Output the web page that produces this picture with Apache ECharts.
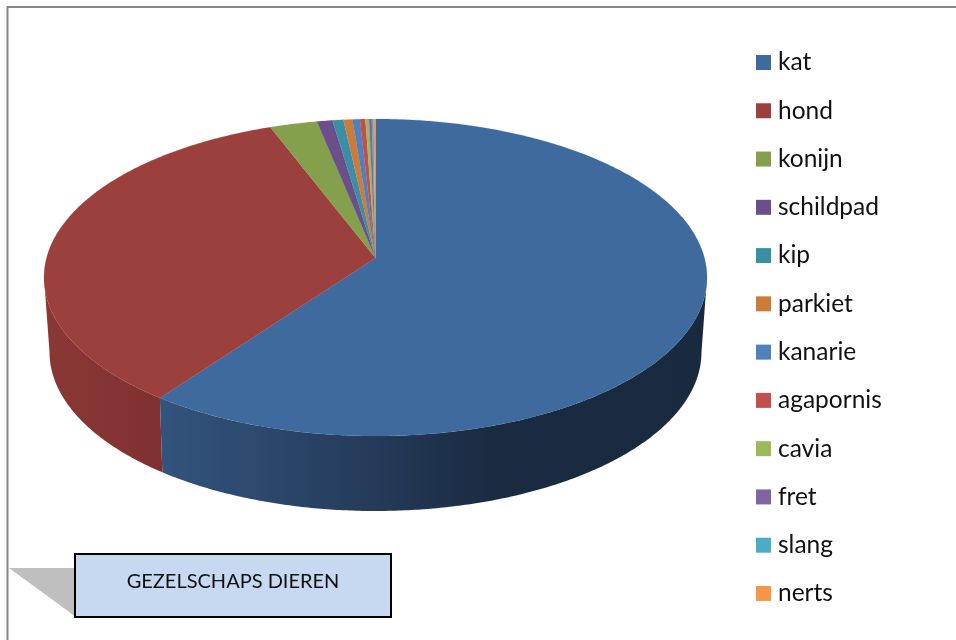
<!DOCTYPE html>
<html>
<head>
<meta charset="utf-8">
<title>Gezelschapsdieren</title>
<style>
    html, body { margin: 0; padding: 0; background: #fff; }
    #chart { width: 956px; height: 640px; }
</style>
<script src="https://cdn.jsdelivr.net/npm/echarts@6/dist/echarts.min.js"></script>
</head>
<body>
<div id="chart"></div>
<script>
// aandeel per dier in procent
const animals = ['kat', 'hond', 'konijn', 'schildpad', 'kip', 'parkiet', 'kanarie', 'agapornis', 'cavia', 'fret', 'slang', 'nerts'];
const shares = [60.05, 34.15, 2.6, 0.85, 0.6, 0.5, 0.4, 0.3, 0.2, 0.15, 0.1, 0.1];
const colors = ['#3E6A9E', '#9C403D', '#84A04C', '#6A4F8A', '#3A8FA5', '#CC7C38', '#4F81BD', '#C0504D', '#9BBB59', '#8064A2', '#4BACC6', '#F79646'];
const title = 'GEZELSCHAPS DIEREN';

// bovenvlak en ondervlak van de schijf, e is de perspectief-verschuiving
const TOP = { cx: 375.5, cy: 277.5, rx: 331.5, ry: 158.5, e: 0.123 };
const BOTTOM = { cx: 375.5, cy: 352, rx: 326, ry: 159, e: 0.13 };

// gradient over de zijkant, alleen kat en hond hebben een zichtbare rand
const WALL_STOPS = {
    kat: [[0, '#33547C'], [0.12, '#2E4C73'], [0.4, '#243A58'], [0.62, '#1A2A40'], [1, '#19293E']],
    hond: [[0, '#8A3836'], [1, '#7F312F']]
};

const total = shares.reduce((a, b) => a + b, 0);

function rimPoint(ell, deg) {
    const rad = deg * Math.PI / 180;
    const u = Math.sin(rad);
    const v = -Math.cos(rad);
    const d = 1 - ell.e * v;
    return [
        ell.cx + ell.rx * u * Math.sqrt(1 - ell.e * ell.e) / d,
        ell.cy + ell.ry * (v - ell.e) / d
    ];
}

function rimAngles(start, end) {
    const list = [];
    for (let a = start; a < end; a += 0.5) {
        list.push(a);
    }
    list.push(end);
    return list;
}

// alleen het deel van de rim tussen de twee uiterste punten van de ellips is voorkant
function frontPoints(ell, start, end) {
    const right = Math.acos(-ell.e) * 180 / Math.PI;
    const from = Math.max(start, right);
    const to = Math.min(end, 360 - right);
    return rimAngles(from, to).map(a => rimPoint(ell, a));
}

function renderSlice(params, api) {
    const index = params.seriesIndex;
    const before = shares.slice(0, index).reduce((a, b) => a + b, 0);
    const start = before / total * 360;
    const end = (before + api.value(0)) / total * 360;
    const apex = [TOP.cx, TOP.cy - TOP.ry * TOP.e];
    const children = [];

    const stops = WALL_STOPS[animals[index]];
    if (stops) {
        const upper = frontPoints(TOP, start, end);
        const lower = frontPoints(BOTTOM, start, end).reverse();
        children.push({
            type: 'polygon',
            shape: { points: upper.concat(lower) },
            style: {
                fill: {
                    type: 'linear',
                    global: true,
                    x: index === 0 ? 160 : 44,
                    y: 0,
                    x2: index === 0 ? 707 : 164,
                    y2: 0,
                    colorStops: stops.map(s => ({ offset: s[0], color: s[1] }))
                }
            }
        });
    }
    children.push({
        type: 'polygon',
        shape: { points: [apex].concat(rimAngles(start, end).map(a => rimPoint(TOP, a))) },
        style: { fill: colors[index], stroke: colors[index], lineWidth: 0.2 }
    });
    return { type: 'group', children: children };
}

const chart = echarts.init(document.getElementById('chart'));
chart.setOption({
    animation: false,
    color: colors,
    textStyle: { fontFamily: 'Lato' },
    legend: {
        orient: 'vertical',
        left: 751,
        top: 45,
        itemWidth: 15,
        itemHeight: 15,
        itemGap: 23.27,
        selectedMode: false,
        icon: 'rect',
        data: animals,
        textStyle: { fontFamily: 'Lato', fontSize: 24.5, lineHeight: 24, color: '#111', padding: [0, 0, 0, 2] }
    },
    graphic: [
        // kader
        { type: 'line', shape: { x1: 7.5, y1: 7, x2: 956, y2: 7 }, style: { stroke: '#868686', lineWidth: 2 } },
        { type: 'line', shape: { x1: 7.5, y1: 6, x2: 7.5, y2: 640 }, style: { stroke: '#868686', lineWidth: 2 } },
        // tekstvak met punt naar de rand
        { type: 'polygon', shape: { points: [[9, 568], [76, 568], [76, 617]] }, style: { fill: '#BFBFBF' } },
        {
            type: 'rect',
            shape: { x: 75, y: 554, width: 316, height: 63 },
            style: { fill: '#C6D9F1', stroke: '#000', lineWidth: 2 }
        },
        {
            type: 'text',
            x: 233,
            y: 582,
            style: { text: title, fill: '#111', font: '20px Lato', align: 'center', verticalAlign: 'middle' }
        }
    ],
    series: animals.map((name, i) => ({
        type: 'custom',
        name: name,
        coordinateSystem: 'none',
        itemStyle: { color: colors[i] },
        data: [[shares[i]]],
        renderItem: renderSlice
    }))
});
</script>
</body>
</html>
